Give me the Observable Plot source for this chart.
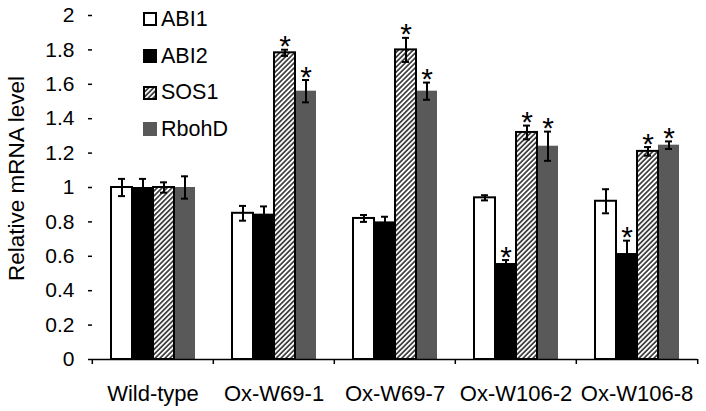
<!DOCTYPE html>
<html><head><meta charset="utf-8">
<script src="https://cdn.jsdelivr.net/npm/d3@7"></script>
<script src="https://cdn.jsdelivr.net/npm/@observablehq/plot@0.6"></script>
<style>
body{margin:0;background:#fff;}
#wrap{position:relative;width:706px;height:411px;font-family:"Liberation Sans",Arial,sans-serif;}
#legend{position:absolute;left:143px;top:1px;}
.row{display:flex;align-items:center;height:36.7px;font-size:21.5px;color:#000;}
.row svg{margin-right:4px;}
</style></head>
<body>
<svg width="0" height="0" style="position:absolute">
<defs>
<pattern id="hatch" patternUnits="userSpaceOnUse" width="3.5" height="3.5" patternTransform="rotate(45)">
<rect width="3.5" height="3.5" fill="white"/>
<line x1="1.75" y1="-1" x2="1.75" y2="4.5" stroke="black" stroke-width="1.3"/>
</pattern>
</defs>
</svg>
<div id="wrap"><div id="legend"></div></div>
<script>
const groups = ["Wild-type", "Ox-W69-1", "Ox-W69-7", "Ox-W106-2", "Ox-W106-8"];
const series = ["ABI1", "ABI2", "SOS1", "RbohD"];

const abi1     = [1.00, 0.85, 0.82, 0.94, 0.92];
const abi1Err  = [0.05, 0.043, 0.02, 0.015, 0.07];
const abi2     = [1.00, 0.845, 0.80, 0.558, 0.616];
const abi2Err  = [0.05, 0.045, 0.03, 0.02, 0.075];
const sos1     = [1.00, 1.783, 1.80, 1.32, 1.21];
const sos1Err  = [0.03, 0.018, 0.07, 0.04, 0.025];
const rbohd    = [1.00, 1.56, 1.56, 1.24, 1.246];
const rbohdErr = [0.065, 0.065, 0.05, 0.085, 0.022];

const abi1Sig  = [false, false, false, false, false];
const abi2Sig  = [false, false, false, true, true];
const sos1Sig  = [false, true, true, true, true];
const rbohdSig = [false, true, true, true, true];

const yTitle = "Relative mRNA level";

const values = {ABI1: abi1, ABI2: abi2, SOS1: sos1, RbohD: rbohd};
const errors = {ABI1: abi1Err, ABI2: abi2Err, SOS1: sos1Err, RbohD: rbohdErr};
const stars  = {ABI1: abi1Sig, ABI2: abi2Sig, SOS1: sos1Sig, RbohD: rbohdSig};

const rows = groups.flatMap((g, i) => series.map(s => ({
  group: g, series: s, value: values[s][i], err: errors[s][i], sig: stars[s][i]
})));

const fills = ["white", "black", "url(#hatch)", "#595959"];
const outlined = ["ABI1", "SOS1"];

const W = 706, H = 411, ML = 91, MR = 8, MT = 15, MB = 52;
const step = (W - ML - MR) / groups.length;
const errHi = d => d.value + d.err;
const errLo = d => d.value - d.err;

const chart = Plot.plot({
  width: W, height: H,
  marginLeft: ML, marginRight: MR, marginTop: MT, marginBottom: MB,
  style: {fontFamily: "'Liberation Sans', Arial, sans-serif", fontSize: "20px", color: "black", background: "white", overflow: "visible"},
  fx: {domain: groups, padding: 0, label: null},
  x: {domain: series, paddingInner: 0, paddingOuter: 0.76, axis: null},
  y: {domain: [0, 2]},
  color: {domain: series, range: fills},
  marks: [
    Plot.barY(rows, {fx: "group", x: "series", y: "value", fill: "series"}),
    Plot.barY(rows.filter(d => outlined.includes(d.series)), {fx: "group", x: "series", y: "value", fill: "none", stroke: "black", strokeWidth: 2}),
    Plot.ruleX(rows, {fx: "group", x: "series", y1: errLo, y2: errHi, stroke: "black", strokeWidth: 2}),
    Plot.tickY(rows, {fx: "group", x: "series", y: errHi, insetLeft: 7, insetRight: 7, stroke: "black", strokeWidth: 2}),
    Plot.tickY(rows, {fx: "group", x: "series", y: errLo, insetLeft: 7, insetRight: 7, stroke: "black", strokeWidth: 2}),
    Plot.text(rows.filter(d => d.sig), {fx: "group", x: "series", y: errHi, text: () => "*", fontSize: 30, dy: -3}),
    Plot.ruleY([0], {stroke: "black", strokeWidth: 1.5}),
    Plot.axisY({ticks: 10, tickFormat: "~g", tickSize: 4, tickPadding: 14, fontSize: 21, line: true, label: null, strokeWidth: 1.5}),
    Plot.axisFx({anchor: "bottom", tickSize: 0, tickPadding: 26, fontSize: 22, label: null}),
    Plot.axisFx({anchor: "bottom", tickSize: 5, tickFormat: () => "", dx: -step / 2, label: null, strokeWidth: 1.5}),
    Plot.axisFx({anchor: "bottom", ticks: [groups[groups.length - 1]], tickSize: 5, tickFormat: () => "", dx: step / 2, label: null, strokeWidth: 1.5}),
    Plot.text([yTitle], {fx: () => groups[0], text: d => d, frameAnchor: "left", textAnchor: "middle", rotate: -90, dx: -76, dy: -9, fontSize: 22.5})
  ]
});

const wrap = document.getElementById("wrap");
wrap.insertBefore(chart, wrap.firstChild);

const legend = d3.select("#legend");
series.forEach((s, i) => {
  const row = legend.append("div").attr("class", "row");
  const sw = row.append("svg").attr("width", 14).attr("height", 14);
  sw.append("rect")
    .attr("x", outlined.includes(s) ? 1 : 0).attr("y", outlined.includes(s) ? 1 : 0)
    .attr("width", outlined.includes(s) ? 12 : 14).attr("height", outlined.includes(s) ? 12 : 14)
    .attr("fill", fills[i])
    .attr("stroke", outlined.includes(s) ? "black" : "none")
    .attr("stroke-width", 2);
  row.append("span").text(s);
});
</script>
</body></html>
